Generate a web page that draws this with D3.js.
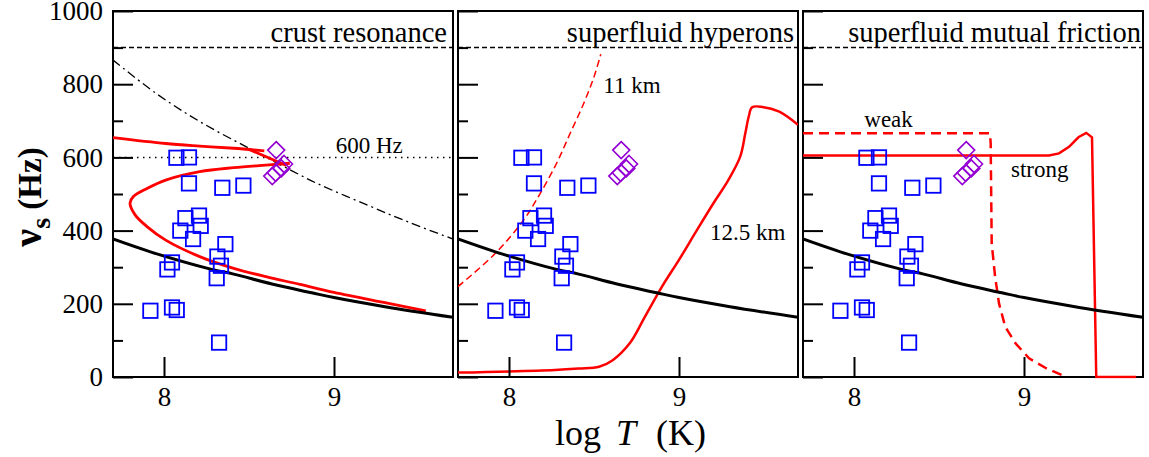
<!DOCTYPE html>
<html>
<head>
<meta charset="utf-8">
<script src="https://cdn.jsdelivr.net/npm/d3@7"></script>
<style>
  body { margin: 0; background: #fff; }
</style>
</head>
<body>
<svg width="1149" height="457"></svg>
<script>
// ---- data ----
const tempTicks = [8, 9];
const freqTicks = [0, 200, 400, 600, 800, 1000];
const freqMinor = [100, 300, 500, 700, 900];
const panelTitles = ["crust resonance", "superfluid hyperons", "superfluid mutual friction"];

// observed LMXB spin frequencies (squares) and diamonds
const obsT  = [8.073, 8.147, 8.147, 8.343, 8.467, 8.126, 8.206, 8.216, 8.096, 8.171,
               8.361, 8.047, 8.020, 8.314, 8.335, 8.310, 7.920, 8.047, 8.075, 8.324];
const obsNu = [599, 600, 529, 517, 523, 434, 441, 413, 400, 377,
               363, 313, 294, 329, 304, 270, 181, 190, 183, 94];
const diaT  = [8.660, 8.706, 8.690, 8.657, 8.637];
const diaNu = [620, 582, 570, 558, 549];

// r-mode instability curve (black, every panel)
const instT  = [7.70, 7.92, 8.28, 8.41, 8.635, 8.87, 9.00, 9.30, 9.70];
const instNu = [377, 342, 294, 281, 254, 230, 217, 192, 163];

// panel 1: crust resonance
const crustUpT  = [7.70, 8.01, 8.21, 8.41, 8.59];
const crustUpNu = [654, 638, 631, 625, 618];
const crustHookT  = [8.50, 8.72];
const crustHookNu = [622, 578];
const crustLowT  = [8.74, 8.60, 8.41, 8.21, 8.01, 7.90, 7.82, 7.80, 7.83, 7.90, 8.01, 8.21, 8.41, 8.60, 8.80, 9.00, 9.30, 9.54];
const crustLowNu = [584, 579, 572, 561, 538, 515, 493, 475, 443, 411, 374, 329, 297, 274, 253, 231, 203, 181];
const dashDotT  = [7.70, 7.95, 8.21, 8.50, 8.75, 8.90, 9.20, 9.45, 9.70];
const dashDotNu = [866, 776, 698, 625, 564, 529, 469, 421, 377];

// panel 2: superfluid hyperons
const hyp11T  = [7.70, 7.92, 8.086, 8.184, 8.28, 8.36, 8.44, 8.50, 8.54];
const hyp11Nu = [247, 338, 429, 502, 584, 666, 748, 820, 882];
const hyp125T  = [7.70, 8.27, 8.41, 8.53, 8.61, 8.71, 8.80, 8.90, 9.00, 9.10, 9.196, 9.29, 9.36, 9.39, 9.41, 9.43, 9.49, 9.59, 9.70];
const hyp125Nu = [12, 19, 23, 28, 46, 92, 165, 247, 320, 397, 470, 538, 602, 666, 711, 737, 738, 725, 689];

// panel 3: superfluid mutual friction
const weakT  = [7.70, 8.80, 8.804, 8.808, 8.81, 8.83, 8.853, 8.89, 8.95, 9.03, 9.13, 9.245];
const weakNu = [666, 666, 638, 456, 365, 274, 201, 137, 92, 51, 24, 1];
const strongT  = [7.70, 9.147, 9.206, 9.265, 9.32, 9.366, 9.40, 9.425, 9.66];
const strongNu = [605, 605, 611, 629, 655, 667, 655, 0, 0];

// ---- layout ----
const panelX = [113, 458, 803];
const panelW = 340, plotTop = 11, plotBottom = 377;
const serif = '"Liberation Serif", "Times New Roman", serif';

const svg = d3.select("svg");
const y = d3.scaleLinear().domain([0, 1000]).range([plotBottom, plotTop]);
const xs = panelX.map(x0 => d3.scaleLinear().domain([7.7, 9.7]).range([x0, x0 + panelW]));

const zip = (a, b) => a.map((v, i) => [v, b[i]]);

xs.forEach((x, i) => {
  const line = d3.line().x(d => x(d[0])).y(d => y(d[1]));
  const smooth = d3.line().x(d => x(d[0])).y(d => y(d[1])).curve(d3.curveCatmullRom.alpha(0.5));

  svg.append("clipPath").attr("id", "clip" + i)
    .append("rect").attr("x", panelX[i]).attr("y", plotTop).attr("width", panelW).attr("height", plotBottom - plotTop + 1.5);
  const g = svg.append("g");

  // frame (under the curves, red lines run along it in the original)
  g.append("rect").attr("x", panelX[i]).attr("y", plotTop).attr("width", panelW).attr("height", plotBottom - plotTop)
    .attr("fill", "none").attr("stroke", "#000").attr("stroke-width", 2);

  const plot = g.append("g").attr("clip-path", `url(#clip${i})`);

  // 900 Hz dashed line
  plot.append("path").datum([[7.7, 900], [9.7, 900]])
    .attr("d", line).attr("fill", "none").attr("stroke", "#000")
    .attr("stroke-width", 1.5).attr("stroke-dasharray", "5,3");

  // panel specific curves
  if (i === 0) {
    plot.append("path").datum([[7.7, 600], [9.7, 600]])
      .attr("d", line).attr("fill", "none").attr("stroke", "#000")
      .attr("stroke-width", 1.5).attr("stroke-dasharray", "1.5,4.5");
    plot.append("path").datum(zip(dashDotT, dashDotNu))
      .attr("d", smooth).attr("fill", "none").attr("stroke", "#000")
      .attr("stroke-width", 1.3).attr("stroke-dasharray", "9,4,2,4");
    [zip(crustUpT, crustUpNu), zip(crustHookT, crustHookNu), zip(crustLowT, crustLowNu)].forEach(c => {
      plot.append("path").datum(c).attr("d", smooth)
        .attr("fill", "none").attr("stroke", "#ff0000").attr("stroke-width", 2.8);
    });
    g.append("text").attr("x", 335.7).attr("y", 152.7).attr("font-size", 23).text("600 Hz");
  }
  if (i === 1) {
    plot.append("path").datum(zip(hyp11T, hyp11Nu)).attr("d", smooth)
      .attr("fill", "none").attr("stroke", "#ff0000").attr("stroke-width", 1.5).attr("stroke-dasharray", "7,4");
    plot.append("path").datum(zip(hyp125T, hyp125Nu)).attr("d", smooth)
      .attr("fill", "none").attr("stroke", "#ff0000").attr("stroke-width", 2.5);
    g.append("text").attr("x", 603.3).attr("y", 92.7).attr("font-size", 23).text("11 km");
    g.append("text").attr("x", 710).attr("y", 240).attr("font-size", 23).text("12.5 km");
  }
  if (i === 2) {
    plot.append("path").datum(zip(weakT, weakNu)).attr("d", line)
      .attr("fill", "none").attr("stroke", "#ff0000").attr("stroke-width", 2.5).attr("stroke-dasharray", "10,6");
    plot.append("path").datum(zip(strongT, strongNu)).attr("d", line)
      .attr("fill", "none").attr("stroke", "#ff0000").attr("stroke-width", 2.5);
    g.append("text").attr("x", 864.3).attr("y", 126.7).attr("font-size", 23).text("weak");
    g.append("text").attr("x", 1011).attr("y", 176.5).attr("font-size", 23).text("strong");
  }

  // instability curve
  plot.append("path").datum(zip(instT, instNu)).attr("d", smooth)
    .attr("fill", "none").attr("stroke", "#000").attr("stroke-width", 3);

  // observed sources
  plot.selectAll(".sq").data(zip(obsT, obsNu)).join("rect")
    .attr("class", "sq")
    .attr("x", d => x(d[0]) - 7.2).attr("y", d => y(d[1]) - 7.2)
    .attr("width", 14.4).attr("height", 14.4)
    .attr("fill", "none").attr("stroke", "#0000ff").attr("stroke-width", 1.8);
  plot.selectAll(".dia").data(zip(diaT, diaNu)).join("path")
    .attr("class", "dia")
    .attr("d", d => { const cx = x(d[0]), cy = y(d[1]), r = 8.5;
      return `M${cx},${cy - r}L${cx + r},${cy}L${cx},${cy + r}L${cx - r},${cy}Z`; })
    .attr("fill", "none").attr("stroke", "#9400d3").attr("stroke-width", 1.6);

  // axes (inward ticks)
  const yMaj = g.append("g").attr("transform", `translate(${panelX[i]},0)`)
    .call(d3.axisRight(y).tickValues(freqTicks).tickSize(20).tickFormat(""));
  const yMin = g.append("g").attr("transform", `translate(${panelX[i]},0)`)
    .call(d3.axisRight(y).tickValues(freqMinor).tickSize(10).tickFormat(""));
  const xMaj = g.append("g").attr("transform", `translate(0,${plotBottom})`)
    .call(d3.axisTop(x).tickValues(tempTicks).tickSize(20).tickFormat(""));
  [yMaj, yMin, xMaj].forEach(a => {
    a.select(".domain").remove();
    a.selectAll("line").attr("stroke", "#000").attr("stroke-width", 2);
  });

  // x tick labels
  const xLab = g.append("g").attr("transform", `translate(0,${plotBottom})`)
    .call(d3.axisBottom(x).tickValues(tempTicks).tickSize(0).tickPadding(10).tickFormat(d3.format("d")));
  xLab.select(".domain").remove();
  xLab.attr("font-size", 27);

  if (i === 0) {
    const yLab = g.append("g").attr("transform", `translate(${panelX[i]},0)`)
      .call(d3.axisLeft(y).tickValues(freqTicks).tickSize(0).tickPadding(10).tickFormat(d3.format("d")));
    yLab.select(".domain").remove();
    yLab.attr("font-size", 27);
  }

  // title
  const titleEnd = [447, 794, 1141];
  g.append("text").attr("x", titleEnd[i]).attr("y", 42).attr("font-size", 28.5)
    .attr("text-anchor", "end").text(panelTitles[i]);
});

// axis titles
const yt = svg.append("text").attr("transform", "translate(41,197) rotate(-90)")
  .attr("text-anchor", "middle").attr("font-weight", "bold");
yt.append("tspan").attr("font-size", 40).text("\u03bd");
yt.append("tspan").attr("font-size", 28).attr("dy", 9).text("s");
yt.append("tspan").attr("font-size", 33).attr("dy", -9).text("\u00a0(Hz)");

svg.append("text").attr("x", 555).attr("y", 445).attr("font-size", 36).text("log");
svg.append("text").attr("x", 616).attr("y", 445).attr("font-size", 36).attr("font-style", "italic").text("T");
svg.append("text").attr("x", 656).attr("y", 445).attr("font-size", 36).text("(K)");

svg.selectAll("text").style("font-family", serif).attr("fill", "#000");
</script>
</body>
</html>
